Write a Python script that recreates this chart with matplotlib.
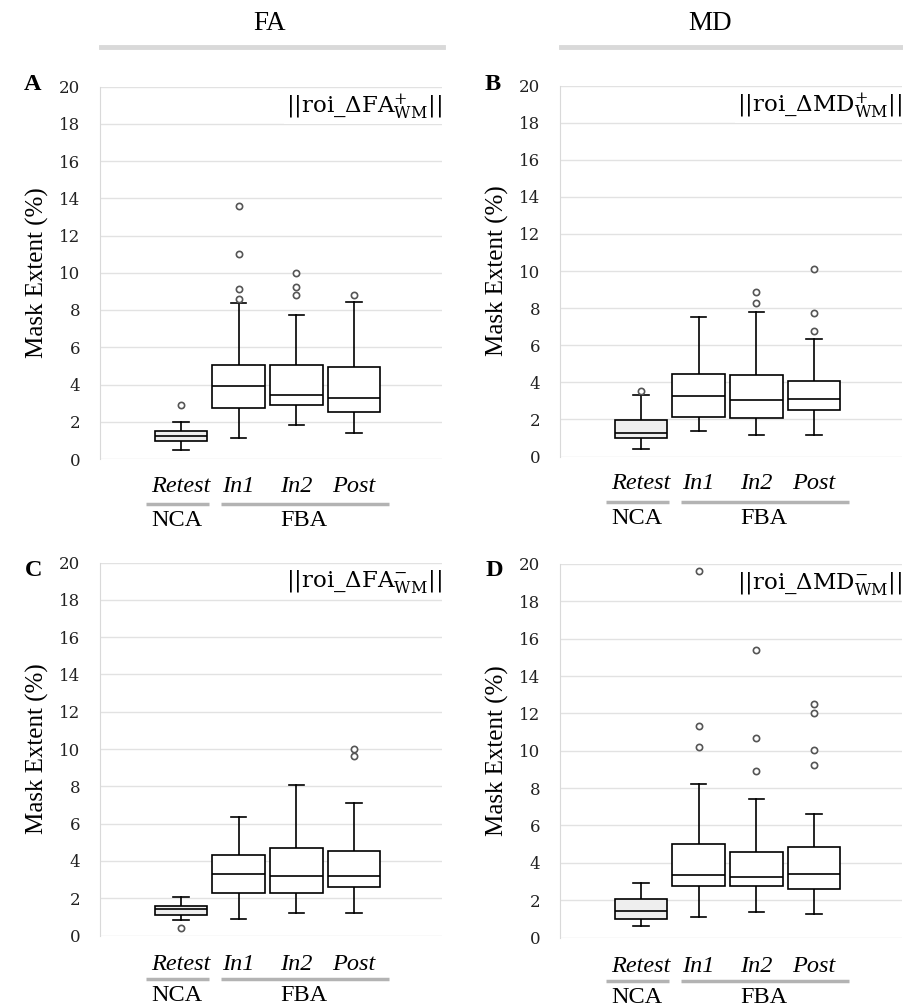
"""
Box plots of mask extent (%) for the FA / MD ROI masks, NCA retest vs FBA sessions.
"""

import matplotlib
matplotlib.use("Agg")
import matplotlib.pyplot as plt
import matplotlib.transforms as mtransforms

###
# DATA
###
groups = ["Retest", "In1", "In2", "Post"]

# A: roi_dFA+ (WM)
a_q1 = [0.95, 2.74, 2.88, 2.52]
a_med = [1.26, 3.93, 3.41, 3.27]
a_q3 = [1.49, 5.05, 5.05, 4.96]
a_lo = [0.51, 1.13, 1.84, 1.40]
a_hi = [1.99, 8.35, 7.73, 8.41]
a_out = [[2.88], [13.61, 11.03, 9.15, 8.57], [9.96, 9.24, 8.83], [8.83]]

# B: roi_dMD+ (WM)
b_q1 = [1.02, 2.13, 2.06, 2.51]
b_med = [1.25, 3.24, 3.05, 3.10]
b_q3 = [1.97, 4.44, 4.39, 4.07]
b_lo = [0.41, 1.40, 1.16, 1.16]
b_hi = [3.33, 7.51, 7.81, 6.33]
b_out = [[3.55], [], [8.87, 8.26], [10.13, 7.72, 6.76]]

# C: roi_dFA- (WM)
c_q1 = [1.11, 2.30, 2.30, 2.58]
c_med = [1.43, 3.28, 3.19, 3.19]
c_q3 = [1.57, 4.32, 4.67, 4.53]
c_lo = [0.84, 0.89, 1.19, 1.19]
c_hi = [2.09, 6.38, 8.07, 7.13]
c_out = [[0.39], [], [], [9.98, 9.60]]

# D: roi_dMD- (WM)
d_q1 = [0.98, 2.76, 2.76, 2.59]
d_med = [1.43, 3.35, 3.26, 3.41]
d_q3 = [2.07, 5.03, 4.60, 4.83]
d_lo = [0.59, 1.12, 1.34, 1.27]
d_hi = [2.91, 8.24, 7.43, 6.61]
d_out = [[], [19.63, 11.32, 10.18], [15.39, 10.70, 8.91], [12.50, 12.03, 10.04, 9.22]]

yticks = list(range(0, 21, 2))

SERIF = "Liberation Serif"
TICKFONT = "DejaVu Serif"
plt.rcParams["mathtext.fontset"] = "dejavuserif"


###
# FUNCTIONS
###
def draw_panel(ax, q1, med, q3, lo, hi, out, note, bottom_row=False):
    stats = []
    for i in range(len(groups)):
        stats.append(dict(label=groups[i], q1=q1[i], med=med[i], q3=q3[i],
                          whislo=lo[i], whishi=hi[i], fliers=out[i]))
    bp = ax.bxp(stats, positions=range(len(groups)), widths=0.91,
                capwidths=0.27, patch_artist=True, showfliers=True,
                boxprops=dict(edgecolor="black", linewidth=1.2),
                medianprops=dict(color="black", linewidth=1.2),
                whiskerprops=dict(color="black", linewidth=1.2),
                capprops=dict(color="black", linewidth=1.2),
                flierprops=dict(marker="o", markersize=4.5, markerfacecolor="white",
                                markeredgecolor="#555555", markeredgewidth=1.2))
    for k, box in enumerate(bp["boxes"]):
        box.set_facecolor("#eeeeee" if k == 0 else "white")
        box.set_zorder(3)
    for m in bp["medians"]:
        m.set_zorder(4)

    ax.set_xlim(-1.40, 4.52)
    ax.set_ylim(0, 20)
    ax.set_yticks(yticks)
    ax.yaxis.grid(True, color="#e2e2e2", linewidth=1.0)
    ax.set_axisbelow(True)
    for side in ["top", "right", "bottom"]:
        ax.spines[side].set_visible(False)
    ax.spines["left"].set_color("#d9d9d9")
    ax.tick_params(axis="both", length=0)
    ax.tick_params(axis="y", pad=14)
    ax.tick_params(axis="x", pad=13 if bottom_row else 12)
    for t in ax.get_yticklabels():
        t.set_fontfamily(TICKFONT)
        t.set_fontsize(12)
        t.set_color("#222222")
    ax.set_xticks(range(len(groups)))
    ax.set_xticklabels(groups, fontfamily=SERIF, fontstyle="italic", fontsize=17.5)

    ax.text(-0.184, 0.5, "Mask Extent (%)", transform=ax.transAxes, rotation=90,
            ha="center", va="center", fontfamily=SERIF, fontsize=18)

    # group brackets under the tick labels
    ul = -0.116 if bottom_row else -0.122
    nl = -0.160 if bottom_row else -0.166
    tr = mtransforms.blended_transform_factory(ax.transData, ax.transAxes)
    ax.plot([-0.60, 0.48], [ul, ul], transform=tr, clip_on=False,
            color="#b3b3b3", linewidth=2.5, solid_capstyle="butt")
    ax.plot([0.69, 3.60], [ul, ul], transform=tr, clip_on=False,
            color="#b3b3b3", linewidth=2.5, solid_capstyle="butt")
    ax.text(-0.07, nl, "NCA", transform=tr, ha="center", va="center",
            fontfamily=SERIF, fontsize=17.5)
    ax.text(2.13, nl, "FBA", transform=tr, ha="center", va="center",
            fontfamily=SERIF, fontsize=17.5)

    ax.text(1.0, 0.985, note, transform=ax.transAxes, ha="right", va="top",
            fontfamily=TICKFONT, fontsize=16.5, zorder=5,
            bbox=dict(facecolor="white", edgecolor="none", pad=1.5))


###
# MAIN PROGRAM
###
def main():
    fig = plt.figure(figsize=(9.04, 10.06), dpi=100)
    W, H = 904.0, 1006.0

    def add(left, top, right, bottom):
        return fig.add_axes([left / W, 1 - bottom / H, (right - left) / W, (bottom - top) / H])

    ax_a = add(100, 86.5, 442, 459)
    ax_b = add(560, 85.5, 902, 456.5)
    ax_c = add(100, 562.5, 442, 935.5)
    ax_d = add(560, 564, 902, 937.5)

    draw_panel(ax_a, a_q1, a_med, a_q3, a_lo, a_hi, a_out, r"||roi_ΔFA${}^{+}_{\mathrm{WM}}$||")
    draw_panel(ax_b, b_q1, b_med, b_q3, b_lo, b_hi, b_out, r"||roi_ΔMD${}^{+}_{\mathrm{WM}}$||")
    draw_panel(ax_c, c_q1, c_med, c_q3, c_lo, c_hi, c_out, r"||roi_ΔFA${}^{-}_{\mathrm{WM}}$||",
               bottom_row=True)
    draw_panel(ax_d, d_q1, d_med, d_q3, d_lo, d_hi, d_out, r"||roi_ΔMD${}^{-}_{\mathrm{WM}}$||",
               bottom_row=True)

    # column headers with grey bars
    for x0, x1, xc, name in [(101, 443, 270, "FA"), (561, 903, 710, "MD")]:
        fig.text(xc / W, 1 - 24 / H, name, ha="center", va="center",
                 fontfamily=SERIF, fontsize=19.5)
        fig.add_artist(plt.Line2D([x0 / W, x1 / W], [1 - 47 / H, 1 - 47 / H],
                                  color="#d9d9d9", linewidth=3.5))

    # panel letters
    for x, y, s in [(33, 84, "A"), (493, 84, "B"), (34, 571, "C"), (494, 571, "D")]:
        fig.text(x / W, 1 - y / H, s, ha="center", va="center",
                 fontfamily=SERIF, fontweight="bold", fontsize=17.5)

    fig.savefig("out.png", dpi=100)


if __name__ == "__main__":
    main()
